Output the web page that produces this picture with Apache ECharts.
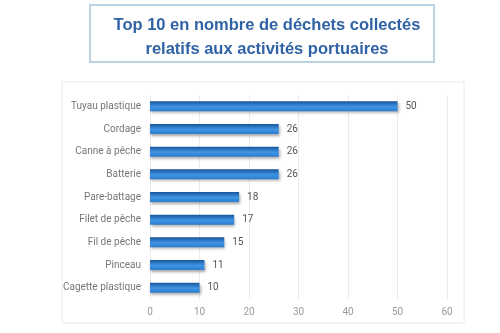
<!DOCTYPE html>
<html><head><meta charset="utf-8">
<script src="https://cdn.jsdelivr.net/npm/echarts@6/dist/echarts.min.js"></script>
<style>html,body{margin:0;padding:0;background:#fff}#c{width:500px;height:333px}</style>
</head><body><div id="c"></div>
<script>
const titleLines = ["Top 10 en nombre de déchets collectés", "relatifs aux activités portuaires"];
const categories = ["Tuyau plastique", "Cordage", "Canne à pêche", "Batterie", "Pare-battage", "Filet de pêche", "Fil de pêche", "Pinceau", "Cagette plastique"];
const values = [50, 26, 26, 26, 18, 17, 15, 11, 10];
const xTicks = [0, 10, 20, 30, 40, 50, 60];

const chart = echarts.init(document.getElementById('c'), null, {renderer: 'canvas'});
chart.setOption({
  animation: false,
  title: {
    text: titleLines.join('\n'),
    left: 262, top: 8, textAlign: 'center',
    textStyle: {fontFamily: 'Liberation Sans', fontWeight: 'bold', fontSize: 16.5, lineHeight: 24, color: '#2f63a6'}
  },
  graphic: [{
    type: 'rect', z: -1, silent: true,
    shape: {x: 62, y: 82, width: 402, height: 241},
    style: {fill: '#fff', stroke: '#e8e8e8', lineWidth: 1}
  }, {
    type: 'rect', z: -1, silent: true,
    shape: {x: 90, y: 5, width: 344, height: 57},
    style: {fill: '#fff', stroke: '#bcd3e4', lineWidth: 2}
  }],
  grid: {left: 150, right: 53, top: 95, bottom: 34},
  xAxis: {
    type: 'value', min: xTicks[0], max: xTicks[xTicks.length - 1], interval: 10,
    axisLine: {show: false}, axisTick: {show: false},
    splitLine: {lineStyle: {color: '#ebebeb', width: 1}},
    axisLabel: {color: '#9a9a9a', fontSize: 10, fontFamily: 'Roboto', margin: 8}
  },
  yAxis: {
    type: 'category', data: categories, inverse: true,
    axisLine: {show: false}, axisTick: {show: false},
    axisLabel: {color: '#777', fontSize: 10, fontFamily: 'Roboto', margin: 9}
  },
  series: [{
    type: 'bar', data: values, barWidth: 10,
    itemStyle: {
      color: new echarts.graphic.LinearGradient(0, 0, 0, 1, [
        {offset: 0, color: '#18559c'},
        {offset: 0.55, color: '#3f95e4'},
        {offset: 1, color: '#2d7ccd'}
      ]),
      shadowColor: 'rgba(0,0,0,0.35)', shadowBlur: 3, shadowOffsetY: 2, shadowOffsetX: 1
    },
    label: {show: true, position: 'right', distance: 8, color: '#555', fontSize: 10, fontFamily: 'Roboto'}
  }]
});
</script></body></html>
